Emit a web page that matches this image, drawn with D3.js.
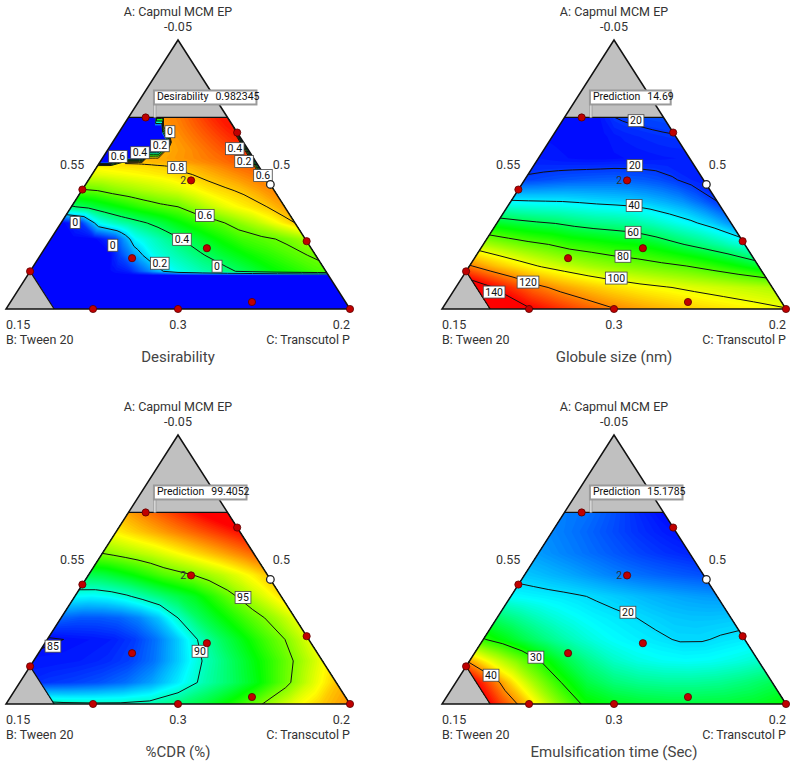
<!DOCTYPE html>
<html><head><meta charset="utf-8">
<script src="https://cdn.jsdelivr.net/npm/d3@7"></script>
<style>
body{margin:0;background:#fff;}
svg{display:block;font-family:Roboto,"Noto Sans",sans-serif;}
</style></head><body>
<svg id="chart" width="800" height="767"></svg>
<script>
// ---------------- data ----------------
const titles = ["Desirability", "Globule size (nm)", "%CDR (%)", "Emulsification time (Sec)"];
const flagNames = ["Desirability", "Prediction", "Prediction", "Prediction"];
const flagValues = ["0.982345", "14.69", "99.4052", "15.1785"];
const flagPointA = 0.712, flagPointC = 0.074;
const axisTopName = "A: Capmul MCM EP";
const axisTopValue = "-0.05";
const sideLeftValue = "0.55";
const sideRightValue = "0.5";
const baseValues = ["0.15", "0.3", "0.2"];
const baseNames = ["B: Tween 20", "C: Transcutol P"];

// constraint region (pseudo components)
const aMax = 0.712, bMax = 0.86;

// design points (A, B, C) ; kind: 1 normal, 0 check point, 2 replicated
const designA = [0.712, 0.656, 0.463, 0.478, 0.444, 0.252, 0.226, 0.189, 0.14, 0.026, 0, 0, 0];
const designB = [0.238, 0, 0, 0.223, 0.556, 0, 0.303, 0.539, 0.86, 0.272, 0.747, 0.5, 0];
const designC = [0.05, 0.344, 0.537, 0.299, 0, 0.748, 0.471, 0.272, 0, 0.702, 0.253, 0.5, 1];
const designKind = [1, 1, 0, 2, 1, 1, 1, 1, 1, 1, 1, 1, 1];

// grid rows (A level) and columns (share of C in B+C) for the response surfaces
const gridA = [0, 0.08, 0.16, 0.24, 0.32, 0.40, 0.48, 0.56, 0.64, 0.72];
const gridT = [0, 0.0833, 0.1667, 0.25, 0.3333, 0.4167, 0.5, 0.5833, 0.6667, 0.75, 0.8333, 0.9167, 1];
const desirGridA = [0, 0.06, 0.125, 0.14, 0.2, 0.26, 0.32, 0.38, 0.44, 0.5, 0.53, 0.545, 0.56, 0.59, 0.62, 0.65, 0.68, 0.72];
const desirGridT = [0, 0.0833, 0.1667, 0.25, 0.27, 0.29, 0.3333, 0.35, 0.37, 0.4167, 0.43, 0.45, 0.5, 0.5833, 0.6667, 0.75, 0.8333, 0.9167, 0.97, 1];

const desirability = [
  [0,0,0,0,0,0,0,0,0,0,0,0,0,0,0,0,0,0,0,0],
  [0,0,0,0,0,0,0,0,0,0,0,0,0,0,0,0,0,0,0,0],
  [0,0,0,0,0,0,0,0,0,0,0,0,0,0,0,0,0,0,0,0],
  [0,0,0,0,0.007,0.015,0.03,0.055,0.085,0.15,0.17,0.2,0.27,0.33,0.38,0.44,0.5,0.54,0.57,0.58],
  [0,0,0,0,0.034,0.067,0.14,0.166,0.197,0.27,0.28,0.294,0.33,0.39,0.45,0.5,0.54,0.58,0.6,0.61],
  [0,0,0,0.06,0.106,0.152,0.25,0.264,0.281,0.32,0.331,0.347,0.39,0.45,0.51,0.56,0.585,0.61,0.64,0.66],
  [0,0.05,0.26,0.33,0.342,0.354,0.38,0.39,0.402,0.43,0.44,0.454,0.49,0.54,0.58,0.63,0.68,0.74,0.78,0.8],
  [0.39,0.43,0.47,0.51,0.52,0.53,0.55,0.556,0.563,0.58,0.583,0.588,0.6,0.65,0.7,0.74,0.77,0.8,0.83,0.84],
  [0.59,0.6,0.63,0.65,0.655,0.66,0.67,0.674,0.679,0.69,0.693,0.698,0.71,0.74,0.77,0.79,0.81,0.84,0.86,0.87],
  [0.72,0.73,0.74,0.75,0.752,0.755,0.76,0.762,0.765,0.77,0.773,0.776,0.79,0.8,0.82,0.84,0.86,0.88,0.89,0],
  [0.76,0.77,0.775,0.78,0.782,0.784,0.788,0.79,0.792,0.796,0.798,0.8,0.81,0.825,0.845,0.865,0.885,0.9,0.91,0],
  [0,0,0.81,0.812,0.813,0.815,0.818,0.82,0.822,0.826,0.828,0.83,0.84,0.85,0.865,0.88,0.9,0.915,0.925,0],
  [0,0,0,0,0,0.82,0.825,0.828,0.83,0.835,0.838,0.84,0.85,0.86,0.875,0.89,0.905,0.92,0.93,0],
  [0,0,0,0,0,0,0,0,0,0.83,0.832,0.835,0.845,0.86,0.88,0.9,0.92,0.94,0.95,0],
  [0,0,0,0,0,0,0,0,0,0,0,0.84,0.85,0.87,0.89,0.91,0.93,0.95,0.96,0],
  [0,0,0,0,0,0,0,0,0,0.85,0.852,0.855,0.86,0.88,0.9,0.92,0.94,0.96,0.97,0],
  [0,0,0,0,0,0,0,0,0.85,0.86,0.862,0.865,0.87,0.89,0.91,0.93,0.95,0.97,0.98,0.98],
  [0,0,0,0,0,0.84,0.85,0.855,0.86,0.865,0.868,0.87,0.88,0.9,0.92,0.94,0.96,0.975,0.98,0.98]
];
const globuleSize = [
  [175, 162, 152, 141.5, 134, 127, 120.5, 116, 112, 108.5, 105.5, 103, 100.5],
  [158, 145, 134, 123.5, 116.5, 111, 106.5, 103, 100.5, 98, 96, 94, 92],
  [121, 112, 105, 99, 94.5, 90.5, 87.5, 85, 82.5, 80, 76, 71, 65],
  [91.5, 87, 83, 80, 76, 74, 71.5, 70, 66, 61, 56.4, 51.4, 45],
  [65.5, 63, 61, 59.5, 57, 55, 54, 52.4, 49, 45, 41.3, 36.5, 30],
  [41, 40.5, 40.2, 39.9, 39, 38, 37.3, 36.6, 35, 32.9, 30.2, 25.6, 20],
  [21, 22, 23, 23.8, 24.3, 24.7, 25, 24.5, 23.8, 22.6, 20.6, 18.3, 17.5],
  [17.0, 16.5, 16.0, 15.6, 15.4, 15.4, 15.6, 15.9, 16.2, 16.5, 16.8, 17.0, 17.0],
  [15.5, 15.2, 15.0, 14.9, 15.0, 15.5, 16.5, 17.3, 17.9, 18.4, 18.9, 19.3, 19.6],
  [15.0, 14.8, 14.7, 14.7, 15.5, 17.5, 20.3, 21, 21.5, 21.9, 22.2, 22.5, 22.8]
];
const cdr = [
  [91, 90.6, 90.3, 90.2, 90.2, 90.4, 91.2, 92.2, 93.5, 95.1, 96.6, 97.8, 98.8],
  [85.4, 85.7, 85.9, 86.2, 86.7, 87.6, 88.9, 90.4, 91.5, 92.8, 94.5, 96.3, 97.9],
  [85.2, 85.2, 85.3, 85.5, 85.9, 86.8, 88.3, 90.0, 91.3, 92.6, 93.9, 95.3, 96.8],
  [84.85, 85.05, 85.15, 85.3, 85.8, 86.8, 88.3, 90.2, 91.6, 92.8, 94.0, 95.1, 96.5],
  [86.6, 86.3, 86.3, 86.5, 87.1, 88.2, 90.0, 91.5, 92.6, 93.6, 94.6, 95.5, 96.6],
  [89.2, 89.1, 89.3, 89.8, 90.5, 91.2, 91.9, 92.6, 93.6, 94.6, 95.6, 96.5, 97.4],
  [91.8, 92.0, 92.5, 93.0, 93.6, 94.2, 94.6, 95.0, 95.5, 96.0, 96.6, 97.2, 97.9],
  [95.0, 95.3, 95.6, 95.9, 96.2, 96.6, 97.0, 97.4, 97.8, 98.2, 98.6, 99.0, 99.4],
  [97.2, 97.5, 97.8, 98.1, 98.4, 98.7, 99.0, 99.3, 99.6, 99.9, 100.2, 100.5, 100.8],
  [98.6, 98.9, 99.2, 99.5, 99.8, 100.1, 100.4, 100.7, 101.0, 101.3, 101.6, 101.9, 102.2]
];
const emulsification = [
  [52, 47, 42.5, 38.5, 33.5, 29.4, 28.2, 27.6, 27.3, 27.3, 27.5, 28, 29],
  [48, 43, 38.5, 34, 30, 27, 25.5, 24.8, 24.5, 24.5, 24.8, 25.5, 26.5],
  [39.5, 36, 33, 29.8, 27, 24.8, 23.2, 22.3, 21.8, 21.6, 21.8, 22.3, 23],
  [30.2, 28.5, 26.6, 25, 23.6, 22.4, 21.5, 20.9, 20.4, 19.8, 19.8, 20.3, 20.7],
  [26, 24.8, 23.6, 22.6, 21.8, 21.1, 20.6, 20.1, 19.5, 19.0, 18.8, 18.8, 19.0],
  [21.5, 21.2, 20.9, 20.6, 20.2, 19.7, 19.2, 18.7, 18.2, 17.8, 17.4, 17.1, 16.9],
  [19.0, 18.6, 18.1, 17.6, 17.0, 16.4, 15.8, 15.3, 14.9, 14.5, 14.2, 13.9, 13.6],
  [17.0, 16.5, 16.0, 15.5, 15.0, 14.5, 14.0, 13.5, 13.0, 12.6, 12.2, 11.9, 11.6],
  [16.0, 15.6, 15.2, 14.8, 14.3, 13.8, 13.3, 12.8, 12.3, 11.9, 11.5, 11.1, 10.8],
  [15.6, 15.4, 15.2, 15.0, 14.6, 14.1, 13.6, 13.0, 12.4, 11.8, 11.3, 10.8, 10.3]
];

// colour stops (blue, cyan, green, yellow, red)
const desirStops = [0, 0.25, 0.5, 0.75, 1];
const sizeStops = [14, 42, 70, 102, 140];
const cdrStops = [84.8, 89.2, 93, 97, 101];
const emulStops = [10, 21.5, 29, 37, 44];

// contour levels drawn as lines
const desirLevels = [0.2, 0.4, 0.6, 0.8];
const sizeLevels = [20, 40, 60, 80, 100, 120, 140];
const cdrLevels = [85, 90, 95];
const emulLevels = [20, 30, 40];

// contour labels (text, A, C)
const desirLabelText = ["0","0.2","0.4","0.6","0.4","0.2","0.6","0.8","0.6","0.4","0.2","0","0","0"];
const desirLabelA = [0.659,0.607,0.581,0.567,0.596,0.548,0.496,0.526,0.348,0.259,0.170,0.159,0.322,0.237];
const desirLabelC = [0.147,0.144,0.099,0.042,0.367,0.418,0.499,0.234,0.404,0.382,0.362,0.534,0.040,0.192];
const sizeLabelText = ["20","20","40","60","80","100","120","140"];
const sizeLabelA = [0.70,0.533,0.385,0.285,0.196,0.115,0.10,0.063];
const sizeLabelC = [0.214,0.294,0.366,0.413,0.428,0.449,0.20,0.12];
const cdrLabelText = ["95","90","85"];
const cdrLabelA = [0.396,0.196,0.215];
const cdrLabelC = [0.491,0.466,0.029];
const emulLabelText = ["20","30","40"];
const emulLabelA = [0.341,0.174,0.107];
const emulLabelC = [0.370,0.186,0.089];

// ---------------- layout ----------------
const panelOffsets = [[0,0],[436,0],[0,395],[436,395]];
const rainbow = ["#0000ff","#00ffff","#00ff00","#ffff00","#ff0000"];

const panels = [
  {grid: desirability, rows: desirGridA, cols: desirGridT, stops: desirStops, levels: desirLevels,
   lt: desirLabelText, la: desirLabelA, lc: desirLabelC},
  {grid: globuleSize, rows: gridA, cols: gridT, stops: sizeStops, levels: sizeLevels,
   lt: sizeLabelText, la: sizeLabelA, lc: sizeLabelC},
  {grid: cdr, rows: gridA, cols: gridT, stops: cdrStops, levels: cdrLevels,
   lt: cdrLabelText, la: cdrLabelA, lc: cdrLabelC},
  {grid: emulsification, rows: gridA, cols: gridT, stops: emulStops, levels: emulLevels,
   lt: emulLabelText, la: emulLabelA, lc: emulLabelC}
];

const svg = d3.select("#chart");
const xBase = d3.scaleLinear().domain([0, 1]).range([6, 350]);
const yA = d3.scaleLinear().domain([0, 1]).range([309, 40]);
const pt = (a, c) => [xBase(c + a / 2), yA(a)];
const line = d3.line();

panels.forEach((p, k) => {
  const g = svg.append("g").attr("transform", `translate(${panelOffsets[k][0]},${panelOffsets[k][1]})`);
  const region = [pt(aMax, 0), pt(aMax, 1 - aMax), pt(0, 1), pt(0, 1 - bMax), pt(1 - bMax, 0)];
  const clipId = "clip" + k;
  g.append("clipPath").attr("id", clipId).append("path").attr("d", line(region) + "Z");

  // grey excluded corners
  g.append("path").attr("d", line([pt(1, 0), pt(aMax, 0), pt(aMax, 1 - aMax)]) + "Z").attr("fill", "#c0c0c0");
  g.append("path").attr("d", line([pt(0, 0), pt(0, 1 - bMax), pt(1 - bMax, 0)]) + "Z").attr("fill", "#c0c0c0");

  // surface
  const n = p.cols.length, m = p.rows.length;
  const flat = p.grid.flat();
  const iScale = d3.scaleLinear().domain(d3.range(n)).range(p.cols);
  const jScale = d3.scaleLinear().domain(d3.range(m)).range(p.rows);
  const proj = d3.geoTransform({
    point(x, y) {
      const a = jScale(y - 0.5), t = iScale(x - 0.5);
      const q = pt(a, t * (1 - a));
      this.stream.point(q[0], q[1]);
    }
  });
  const path = d3.geoPath(proj);
  const color = d3.scaleLinear().domain(p.stops).range(rainbow)
    .interpolate(d3.interpolateRgb).clamp(true);
  const vmin = d3.min(flat), vmax = d3.max(flat);
  const step = (p.stops[4] - p.stops[0]) / 110;
  const ths = d3.range(vmin + step, vmax, step);
  const surf = g.append("g").attr("clip-path", `url(#${clipId})`);
  surf.append("path").attr("d", line(region) + "Z").attr("fill", color(vmin + step / 2));
  const cs = d3.contours().size([n, m]).thresholds(ths)(flat);
  surf.selectAll("path.band").data(cs).join("path").attr("class", "band")
    .attr("d", path).attr("fill", d => color(d.value + step / 2));
  const gen = d3.contours().size([n, m]);
  surf.selectAll("path.iso").data(p.levels.map(l => gen.contour(flat, l))).join("path")
    .attr("class", "iso").attr("d", path).attr("fill", "none")
    .attr("stroke", "#111").attr("stroke-width", 1);

  // outlines
  g.append("path").attr("d", line([pt(aMax, 0), pt(aMax, 1 - aMax)])).attr("stroke", "#111").attr("stroke-width", 1.2);
  g.append("path").attr("d", line([pt(0, 1 - bMax), pt(1 - bMax, 0)])).attr("stroke", "#111").attr("stroke-width", 1.2);
  g.append("path").attr("d", line([pt(1, 0), pt(0, 0), pt(0, 1)]) + "Z")
    .attr("fill", "none").attr("stroke", "#111").attr("stroke-width", 1.5).attr("stroke-linejoin", "miter");

  // contour labels
  p.lt.forEach((s, i) => {
    const [x, y] = pt(p.la[i], p.lc[i]);
    const lg = g.append("g");
    const tx = lg.append("text").attr("x", x).attr("y", y + 3.6).attr("text-anchor", "middle")
      .attr("font-size", 10.5).attr("fill", "#111").text(s);
    const w = tx.node().getComputedTextLength();
    lg.insert("rect", "text").attr("x", x - w / 2 - 2).attr("y", y - 6).attr("width", w + 4).attr("height", 12)
      .attr("fill", "#fff").attr("stroke", "#444").attr("stroke-width", 0.8);
  });

  // design points
  designA.forEach((a, i) => {
    const [x, y] = pt(a, designC[i]);
    if (designKind[i] === 0) {
      g.append("circle").attr("cx", x).attr("cy", y).attr("r", 3.8).attr("fill", "#fff").attr("stroke", "#222").attr("stroke-width", 1.3);
    } else {
      g.append("circle").attr("cx", x).attr("cy", y).attr("r", 3.6).attr("fill", "#c00000").attr("stroke", "#5a0000").attr("stroke-width", 0.8);
    }
    if (designKind[i] === 2) {
      g.append("text").attr("x", x - 5).attr("y", y + 4).attr("text-anchor", "end")
        .attr("font-size", 10.5).attr("fill", "#333").text("2");
    }
  });

  // flag
  const [fx, fy] = pt(flagPointA, flagPointC);
  g.append("line").attr("x1", fx + 1).attr("x2", fx + 1).attr("y1", fy - 13).attr("y2", fy).attr("stroke", "#999").attr("stroke-width", 3);
  g.append("line").attr("x1", fx + 1).attr("x2", fx + 1).attr("y1", fy - 13).attr("y2", fy).attr("stroke", "#fff").attr("stroke-width", 1);
  const fg = g.append("g");
  const ft = fg.append("text").attr("x", fx + 3).attr("y", fy - 17).attr("font-size", 10.5).attr("fill", "#111");
  ft.append("tspan").text(flagNames[k]);
  ft.append("tspan").attr("dx", 7).text(flagValues[k]);
  const fw = ft.node().getComputedTextLength();
  fg.insert("rect", "text").attr("x", fx).attr("y", fy - 27).attr("width", fw + 7).attr("height", 14)
    .attr("fill", "#fff").attr("stroke", "#9a9a9a").attr("stroke-width", 2);

  // axis texts
  const tcol = "#333", fs = 12.5;
  const [ax, ay] = pt(1, 0);
  g.append("text").attr("x", ax).attr("y", ay - 24).attr("text-anchor", "middle").attr("font-size", fs).attr("fill", tcol).text(axisTopName);
  g.append("text").attr("x", ax).attr("y", ay - 9).attr("text-anchor", "middle").attr("font-size", fs).attr("fill", tcol).text(axisTopValue);
  const [lx, ly] = pt(0.537, 0);
  g.append("text").attr("x", lx - 14).attr("y", ly + 4).attr("text-anchor", "end").attr("font-size", fs).attr("fill", tcol).text(sideLeftValue);
  const [rx, ry] = pt(0.537, 1 - 0.537);
  g.append("text").attr("x", rx + 15).attr("y", ry + 4).attr("text-anchor", "start").attr("font-size", fs).attr("fill", tcol).text(sideRightValue);
  const [b0x, by] = pt(0, 0), [b1x] = pt(0, 0.5), [b2x] = pt(0, 1);
  g.append("text").attr("x", b0x).attr("y", by + 20).attr("font-size", fs).attr("fill", tcol).text(baseValues[0]);
  g.append("text").attr("x", b1x).attr("y", by + 20).attr("text-anchor", "middle").attr("font-size", fs).attr("fill", tcol).text(baseValues[1]);
  g.append("text").attr("x", b2x).attr("y", by + 20).attr("text-anchor", "end").attr("font-size", fs).attr("fill", tcol).text(baseValues[2]);
  g.append("text").attr("x", b0x).attr("y", by + 35).attr("font-size", fs).attr("fill", tcol).text(baseNames[0]);
  g.append("text").attr("x", b2x).attr("y", by + 35).attr("text-anchor", "end").attr("font-size", fs).attr("fill", tcol).text(baseNames[1]);
  g.append("text").attr("x", ax).attr("y", by + 53).attr("text-anchor", "middle").attr("font-size", 15).attr("fill", "#444").text(titles[k]);
});
</script>
</body></html>
